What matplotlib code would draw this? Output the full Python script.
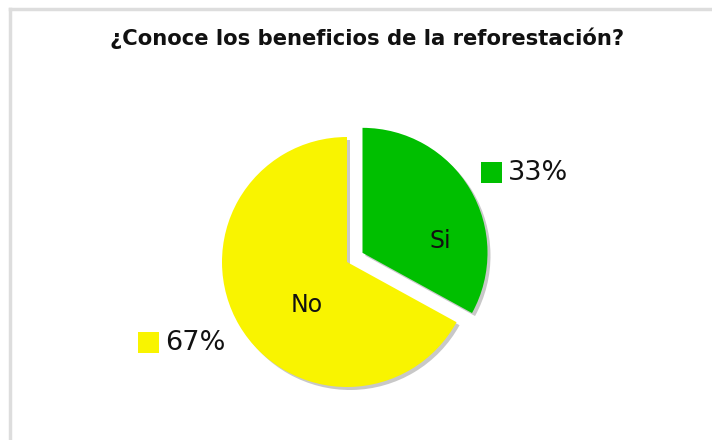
import matplotlib
matplotlib.use("Agg")
import matplotlib.pyplot as plt
from matplotlib.patches import Rectangle
from matplotlib.lines import Line2D

title = "¿Conoce los beneficios de la reforestación?"
categories = ["Si", "No"]
values = [33, 67]
pct_labels = ["33%", "67%"]
colors = ["#00BF00", "#F9F400"]

W, H = 712, 440
fig = plt.figure(figsize=(W / 100, H / 100), dpi=100)
fig.patch.set_facecolor("white")
ax = fig.add_axes([0, 0, 1, 1])
ax.set_xlim(0, W)
ax.set_ylim(0, H)
ax.set_aspect("equal")
ax.axis("off")

# frame (top and left borders)
fig.add_artist(Line2D([9.5 / W, 1], [1 - 9.5 / H, 1 - 9.5 / H], color="#dddddd", lw=2.5))
fig.add_artist(Line2D([9.5 / W, 9.5 / W], [0, 1 - 9.5 / H], color="#dddddd", lw=2.5))

cx, cy, r = 347, H - 262, 125
explode = [18, 0]  # pie explode offset is in data units here

# shadow
ax.pie(values, center=(cx + 3, cy - 3), radius=r, startangle=90, counterclock=False,
       explode=explode, colors=["#c8c8c8", "#c8c8c8"], frame=True,
       wedgeprops=dict(linewidth=0))
ax.pie(values, center=(cx, cy), radius=r, startangle=90, counterclock=False,
       explode=explode, colors=colors, frame=True,
       wedgeprops=dict(linewidth=0))
ax.set_xlim(0, W)
ax.set_ylim(0, H)
ax.axis("off")

font = "DejaVu Sans"
ax.text(440, H - 241, categories[0], fontsize=17, family=font, ha="center", va="center", color="#111111")
ax.text(307, H - 305, categories[1], fontsize=17, family=font, ha="center", va="center", color="#111111")

# legend-like labels
ax.add_patch(Rectangle((481, H - 183), 21, 21, facecolor=colors[0], edgecolor="none"))
ax.text(508, H - 173, pct_labels[0], fontsize=19.5, family=font, ha="left", va="center", color="#111111")
ax.add_patch(Rectangle((138, H - 353), 21, 21, facecolor=colors[1], edgecolor="none"))
ax.text(165, H - 343, pct_labels[1], fontsize=19.5, family=font, ha="left", va="center", color="#111111")

ax.text(367, H - 38, title, fontsize=15.2, family="DejaVu Sans", weight="bold",
        ha="center", va="center", color="#111111")

fig.savefig("out.png", dpi=100, facecolor="white")
